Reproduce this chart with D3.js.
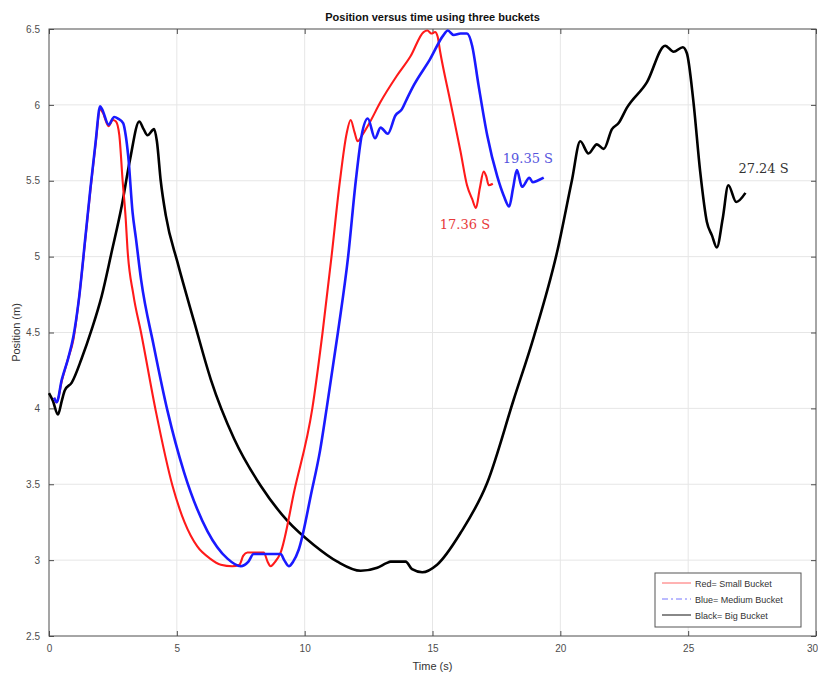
<!DOCTYPE html>
<html>
<head>
<meta charset="utf-8">
<script src="https://cdn.jsdelivr.net/npm/d3@7"></script>
<style>
  body { margin: 0; background: #fff; }
  svg { font-family: "Liberation Sans", Arial, sans-serif; }
</style>
</head>
<body>
<svg id="chart" width="818" height="677"></svg>
<script>
// datos (tiempo en s, posicion en m)
const redT = [0.2, 0.3, 0.5, 0.75, 0.95, 1.17, 1.43, 1.62, 1.82, 2.0, 2.1, 2.33, 2.5, 2.62, 2.75, 2.88, 3.0, 3.07, 3.3, 3.6, 4.18, 4.83, 5.3, 5.8, 6.3, 6.72, 7.17, 7.45, 7.6, 7.76, 8.1, 8.4, 8.55, 8.67, 8.85, 9.06, 9.6, 10.3, 10.7, 11.05, 11.38, 11.64, 11.8, 11.95, 12.07, 12.25, 12.5, 12.97, 13.6, 14.14, 14.65, 14.8, 14.96, 15.1, 15.2, 15.3, 15.7, 16.1, 16.35, 16.55, 16.7, 16.85, 17.0, 17.1, 17.2, 17.36];
const redY = [4.07, 4.04, 4.18, 4.33, 4.45, 4.72, 5.13, 5.44, 5.74, 5.97, 5.95, 5.86, 5.9, 5.89, 5.8, 5.5, 5.25, 5.05, 4.75, 4.5, 3.98, 3.49, 3.25, 3.09, 3.01, 2.97, 2.96, 2.97, 3.03, 3.05, 3.05, 3.05, 2.99, 2.96, 2.99, 3.05, 3.46, 4.0, 4.5, 5.0, 5.5, 5.81, 5.9, 5.82, 5.76, 5.8, 5.87, 6.02, 6.19, 6.32, 6.48, 6.49, 6.47, 6.48, 6.45, 6.35, 6.02, 5.69, 5.47, 5.38, 5.32, 5.45, 5.56, 5.53, 5.47, 5.48];

const blueT = [0.2, 0.3, 0.5, 0.75, 0.95, 1.17, 1.43, 1.62, 1.82, 2.0, 2.08, 2.33, 2.55, 2.7, 2.9, 3.0, 3.1, 3.27, 3.4, 3.6, 4.1, 4.64, 5.28, 6.2, 6.98, 7.5, 7.8, 8.0, 8.5, 9.06, 9.2, 9.38, 9.55, 9.77, 10.27, 10.6, 10.86, 11.3, 11.7, 12.0, 12.23, 12.47, 12.75, 12.97, 13.25, 13.55, 13.8, 14.0, 14.27, 14.9, 15.43, 15.6, 15.83, 16.1, 16.35, 16.55, 16.8, 17.14, 17.53, 17.79, 18.0, 18.15, 18.3, 18.5, 18.79, 18.92, 19.1, 19.35];
const blueY = [4.07, 4.04, 4.19, 4.33, 4.47, 4.72, 5.14, 5.45, 5.75, 5.99, 5.97, 5.87, 5.92, 5.91, 5.88, 5.8, 5.66, 5.29, 5.12, 4.85, 4.41, 3.98, 3.58, 3.19, 3.01, 2.96, 2.99, 3.04, 3.04, 3.04, 3.0, 2.96, 2.99, 3.07, 3.45, 3.72, 4.0, 4.5, 5.0, 5.5, 5.8, 5.91, 5.78, 5.85, 5.81, 5.93, 5.97, 6.04, 6.13, 6.3, 6.46, 6.49, 6.46, 6.47, 6.47, 6.39, 6.13, 5.8, 5.53, 5.4, 5.33, 5.45, 5.57, 5.46, 5.52, 5.49, 5.5, 5.52];

const blackT = [0, 0.15, 0.35, 0.5, 0.62, 0.89, 1.28, 1.67, 2.06, 2.45, 2.84, 3.17, 3.53, 3.7, 3.85, 4.11, 4.22, 4.37, 4.57, 5.03, 5.68, 6.33, 7.24, 8.28, 9.32, 10.36, 11.28, 12.19, 12.84, 13.2, 13.36, 13.95, 14.2, 14.6, 15.18, 16.1, 17.14, 18.18, 18.96, 19.9, 20.45, 20.78, 21.1, 21.43, 21.7, 22.02, 22.28, 22.6, 23.39, 24.1, 24.43, 24.79, 24.95, 25.2, 25.47, 25.73, 25.93, 26.12, 26.35, 26.57, 26.88, 27.24];
const blackY = [4.1, 4.05, 3.96, 4.05, 4.12, 4.17, 4.33, 4.52, 4.74, 5.03, 5.33, 5.64, 5.89, 5.84, 5.8, 5.84, 5.76, 5.5, 5.27, 4.96, 4.57, 4.19, 3.8, 3.49, 3.26, 3.1, 2.99, 2.93, 2.95, 2.98, 2.99, 2.99, 2.94, 2.92, 2.97, 3.18, 3.51, 4.06, 4.47, 5.05, 5.5, 5.76, 5.68, 5.74, 5.71, 5.84, 5.88, 5.98, 6.15, 6.39, 6.35, 6.38, 6.34, 6.03, 5.56, 5.23, 5.14, 5.06, 5.25, 5.47, 5.36, 5.42];

const xTicks = [0, 5, 10, 15, 20, 25, 30];
const yTicks = [2.5, 3, 3.5, 4, 4.5, 5, 5.5, 6, 6.5];
const legendLabels = ["Red= Small Bucket", "Blue= Medium Bucket", "Black= Big Bucket"];
const endLabels = ["17.36 S", "19.35 S", "27.24 S"];

const svg = d3.select("#chart");
const mLeft = 49, mRight = 816, mTop = 29, mBottom = 636;

const x = d3.scaleLinear().domain([0, 30]).range([mLeft, mRight]);
const y = d3.scaleLinear().domain([2.5, 6.5]).range([mBottom, mTop]);

// cuadricula
svg.append("g").selectAll("line").data(xTicks.slice(1, -1)).enter().append("line")
    .attr("x1", d => x(d)).attr("x2", d => x(d))
    .attr("y1", mTop).attr("y2", mBottom)
    .style("stroke", "#e6e6e6");
svg.append("g").selectAll("line").data(yTicks.slice(1, -1)).enter().append("line")
    .attr("x1", mLeft).attr("x2", mRight)
    .attr("y1", d => y(d)).attr("y2", d => y(d))
    .style("stroke", "#e6e6e6");

// ejes con ticks hacia dentro en los cuatro lados
const axisColor = "#4d4d4d";
function estilo(g) {
    g.select(".domain").remove();
    g.selectAll(".tick line").style("stroke", axisColor);
    g.selectAll(".tick text").style("fill", "#4d4d4d").style("font-size", "10px");
}
svg.append("g").attr("transform", `translate(0,${mBottom})`)
    .call(d3.axisBottom(x).tickValues(xTicks).tickSizeInner(-5).tickPadding(9))
    .call(estilo)
    .selectAll(".tick text")
    .attr("dx", d => d === 30 ? -4 : 0); // que el "30" quepa en la ventana
svg.append("g").attr("transform", `translate(0,${mTop})`)
    .call(d3.axisTop(x).tickValues(xTicks).tickSizeInner(-5).tickFormat(""))
    .call(estilo);
svg.append("g").attr("transform", `translate(${mLeft},0)`)
    .call(d3.axisLeft(y).tickValues(yTicks).tickSizeInner(-5).tickPadding(9).tickFormat(d3.format("")))
    .call(estilo);
svg.append("g").attr("transform", `translate(${mRight},0)`)
    .call(d3.axisRight(y).tickValues(yTicks).tickSizeInner(-5).tickFormat(""))
    .call(estilo);

svg.append("rect")
    .attr("x", mLeft).attr("y", mTop)
    .attr("width", mRight - mLeft).attr("height", mBottom - mTop)
    .style("fill", "none").style("stroke", axisColor).style("stroke-width", 1);

// curvas
const linea = d3.line()
    .x(d => x(d[0]))
    .y(d => y(d[1]))
    .curve(d3.curveMonotoneX);

const series = [
    { t: blackT, v: blackY, color: "#000000", w: 2.6 },
    { t: redT, v: redY, color: "#ff1a1a", w: 2.1 },
    { t: blueT, v: blueY, color: "#1a1aff", w: 2.6 }
];

svg.append("g").selectAll("path")
    .data(series)
    .enter()
    .append("path")
    .attr("d", s => linea(d3.zip(s.t, s.v)))
    .style("fill", "none")
    .style("stroke", s => s.color)
    .style("stroke-width", s => s.w)
    .style("stroke-linejoin", "round");

// etiquetas de tiempo final
const endPos = [[17.36, 5.18], [19.35, 5.62], [27.24, 5.55]];
const endShift = [-53, -41, -7];
const endColors = ["#e83a3a", "#5555dd", "#333333"];
svg.append("g").selectAll("text")
    .data(endLabels)
    .enter()
    .append("text")
    .attr("x", (d, i) => x(endPos[i][0]) + endShift[i])
    .attr("y", (d, i) => y(endPos[i][1]))
    .text(d => d)
    .style("font-family", "'DejaVu Serif', serif")
    .style("font-size", "13px")
    .style("fill", (d, i) => endColors[i]);

// titulo y ejes
svg.append("text")
    .attr("x", (mLeft + mRight) / 2).attr("y", 21)
    .style("text-anchor", "middle")
    .style("font-weight", "bold")
    .style("font-size", "11px")
    .style("fill", "#111")
    .text("Position versus time using three buckets");

svg.append("text")
    .attr("x", (mLeft + mRight) / 2).attr("y", 670)
    .style("text-anchor", "middle")
    .style("font-size", "11px")
    .style("fill", "#333")
    .text("Time (s)");

svg.append("text")
    .attr("transform", `translate(20,${(mTop + mBottom) / 2}) rotate(-90)`)
    .style("text-anchor", "middle")
    .style("font-size", "11px")
    .style("fill", "#333")
    .text("Position (m)");

// leyenda
const legend = svg.append("g").attr("transform", "translate(655,573)");
legend.append("rect")
    .attr("width", 146).attr("height", 54)
    .style("fill", "#fff").style("stroke", "#555");

const legendStyles = [
    { color: "#ff6666", w: 1, dash: null },
    { color: "#7777ff", w: 1, dash: "6,3,2,3" },
    { color: "#888888", w: 2, dash: null }
];

const legendItems = legend.selectAll(".legend-item")
    .data(legendLabels)
    .enter()
    .append("g")
    .attr("class", "legend-item")
    .attr("transform", (d, i) => `translate(0,${10 + i * 16})`);

legendItems.append("line")
    .attr("x1", 7).attr("x2", 36)
    .style("stroke", (d, i) => legendStyles[i].color)
    .style("stroke-width", (d, i) => legendStyles[i].w)
    .style("stroke-dasharray", (d, i) => legendStyles[i].dash);

legendItems.append("text")
    .attr("x", 40).attr("y", 3.5)
    .style("font-size", "9px")
    .style("fill", "#333")
    .text(d => d);
</script>
</body>
</html>
